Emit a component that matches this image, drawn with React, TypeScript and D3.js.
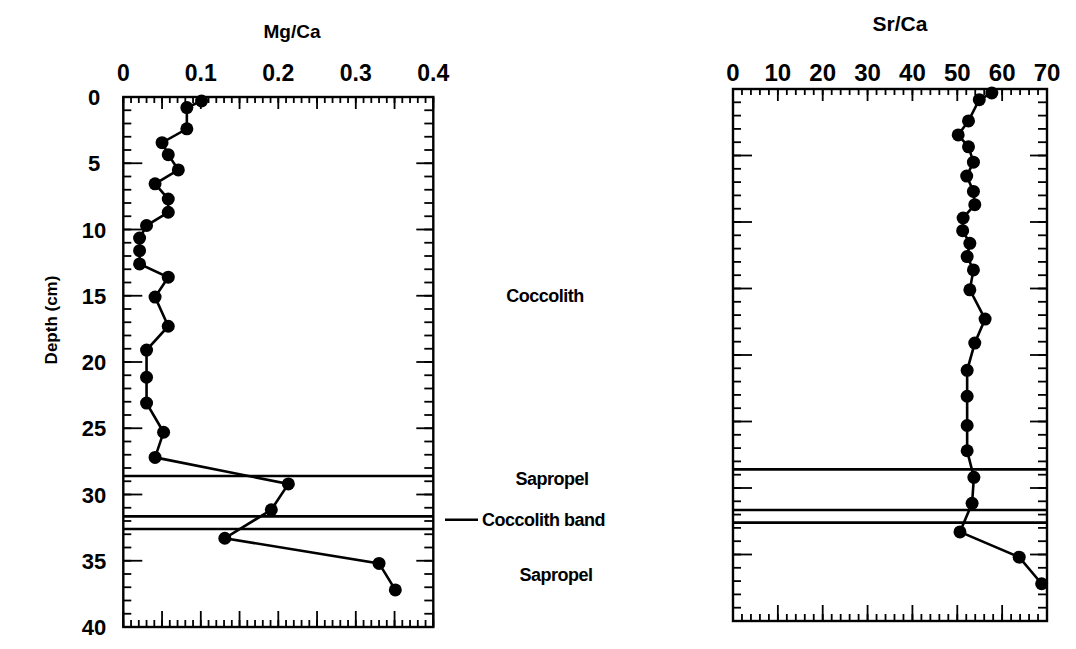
import React from 'react';
import * as d3 from 'd3';

// sample depths (cm), shared by both profiles
const depths = [0.3, 0.8, 2.4, 3.45, 4.35, 5.5, 6.55, 7.7, 8.7, 9.7, 10.65, 11.6, 12.6, 13.6, 15.1, 17.3, 19.1, 21.15, 23.1, 25.3, 27.2, 29.2, 31.15, 33.3, 35.2, 37.2];
const mgCa = [0.101, 0.082, 0.082, 0.05, 0.058, 0.071, 0.041, 0.058, 0.058, 0.03, 0.021, 0.021, 0.021, 0.058, 0.041, 0.058, 0.03, 0.03, 0.03, 0.052, 0.041, 0.213, 0.191, 0.131, 0.33, 0.351];
const srCa = [57.7, 54.9, 52.5, 50.2, 52.5, 53.6, 52.1, 53.6, 53.9, 51.3, 51.2, 52.8, 52.2, 53.6, 52.8, 56.2, 53.9, 52.2, 52.2, 52.2, 52.2, 53.7, 53.3, 50.6, 63.8, 68.8];

const mgTickLabels = [0, 0.1, 0.2, 0.3, 0.4];
const srTickLabels = [0, 10, 20, 30, 40, 50, 60, 70];
const depthTickLabels = [0, 5, 10, 15, 20, 25, 30, 35, 40];

// unit boundaries (depth, cm)
const boundaries = [28.6, 31.65, 32.6];
const zoneNames = ['Coccolith', 'Sapropel', 'Coccolith band', 'Sapropel'];
const zoneDepths = [15, 28.8, 31.9, 36.1];

const FONT = 'Arial, "Liberation Sans", sans-serif';

type PanelProps = {
  values: number[];
  domain: [number, number];
  left: number; right: number; top: number; bottom: number;
  minorN: number; majorN: number;
  labels: number[];
  title: string; titleX: number; titleY: number; titleSize: number;
  labelSize: number; labelY: number;
  depthAxis?: boolean;
};

function Panel(p: PanelProps) {
  const x = d3.scaleLinear().domain(p.domain).range([p.left, p.right]);
  const y = d3.scaleLinear().domain([0, 40]).range([p.top, p.bottom]);
  const line = d3.line<number>().x(v => x(v)).y((_, i) => y(depths[i]));
  const majX = x.ticks(p.majorN);
  const minX = x.ticks(p.minorN);
  const majY = y.ticks(8);
  const minY = y.ticks(40);
  const sw = 1.8;
  const zoneX = [545, 552, 482, 556];
  return (
    <g>
      {/* boundary lines */}
      {boundaries.map((b, i) => (
        <line key={'b' + i} x1={p.left} x2={p.right} y1={y(b)} y2={y(b)} stroke="#000" strokeWidth={2.6} />
      ))}
      {/* x ticks top and bottom, inward */}
      {minX.map((t, i) => (
        <g key={'mx' + i}>
          <line x1={x(t)} x2={x(t)} y1={p.top} y2={p.top + 6} stroke="#000" strokeWidth={sw} />
          <line x1={x(t)} x2={x(t)} y1={p.bottom} y2={p.bottom - 7} stroke="#000" strokeWidth={sw} />
        </g>
      ))}
      {majX.map((t, i) => (
        <g key={'Mx' + i}>
          <line x1={x(t)} x2={x(t)} y1={p.top} y2={p.top + 12} stroke="#000" strokeWidth={sw} />
          <line x1={x(t)} x2={x(t)} y1={p.bottom} y2={p.bottom - 16} stroke="#000" strokeWidth={sw} />
        </g>
      ))}
      {/* y ticks left and right, inward */}
      {minY.map((t, i) => (
        <g key={'my' + i}>
          <line x1={p.left} x2={p.left + 8} y1={y(t)} y2={y(t)} stroke="#000" strokeWidth={sw} />
          <line x1={p.right} x2={p.right - 9} y1={y(t)} y2={y(t)} stroke="#000" strokeWidth={sw} />
        </g>
      ))}
      {majY.map((t, i) => (
        <g key={'My' + i}>
          <line x1={p.left} x2={p.left + 19} y1={y(t)} y2={y(t)} stroke="#000" strokeWidth={sw} />
          <line x1={p.right} x2={p.right - 17} y1={y(t)} y2={y(t)} stroke="#000" strokeWidth={sw} />
        </g>
      ))}
      <rect x={p.left} y={p.top} width={p.right - p.left} height={p.bottom - p.top} fill="none" stroke="#000" strokeWidth={2.4} />
      {/* profile */}
      <path d={line(p.values) || ''} fill="none" stroke="#000" strokeWidth={2.6} />
      {p.values.map((v, i) => (
        <circle key={'p' + i} cx={x(v)} cy={y(depths[i])} r={6.5} fill="#000" />
      ))}
      {/* labels */}
      {p.labels.map((t, i) => (
        <text key={'lx' + i} x={x(t)} y={p.labelY} textAnchor="middle" fontSize={p.labelSize} fontWeight="bold" fontFamily={FONT}>{t}</text>
      ))}
      <text x={p.titleX} y={p.titleY} textAnchor="middle" fontSize={p.titleSize} fontWeight="bold" fontFamily={FONT}>{p.title}</text>
      {p.depthAxis && depthTickLabels.map((t, i) => (
        <text key={'ly' + i} x={94} y={y(t) + 8} textAnchor="middle" fontSize={22} fontWeight="bold" fontFamily={FONT}>{t}</text>
      ))}
      {p.depthAxis && (
        <g>
          {zoneNames.map((n, i) => (
            <text key={'z' + i} x={zoneX[i]} y={y(zoneDepths[i]) + 6}
              textAnchor={i === 2 ? 'start' : 'middle'} fontSize={18} fontWeight="bold" fontFamily={FONT} letterSpacing={-0.5}>{n}</text>
          ))}
          <line x1={445} x2={478} y1={y(zoneDepths[2])} y2={y(zoneDepths[2])} stroke="#000" strokeWidth={2.4} />
        </g>
      )}
    </g>
  );
}

export default function App() {
  return (
    <svg width={1076} height={649} style={{ position: 'absolute', left: 0, top: 0, background: '#fff' }}>
      <rect width={1076} height={649} fill="#fff" />
      <Panel values={mgCa} domain={[0, 0.4]} left={123.3} right={433.3} top={97} bottom={627}
        minorN={40} majorN={8} labels={mgTickLabels}
        title="Mg/Ca" titleX={292} titleY={38} titleSize={19}
        labelSize={23} labelY={81} depthAxis />
      <Panel values={srCa} domain={[0, 70]} left={733} right={1047} top={89} bottom={621}
        minorN={35} majorN={7} labels={srTickLabels}
        title="Sr/Ca" titleX={900} titleY={31} titleSize={21}
        labelSize={24} labelY={81} />
      <text transform="translate(57,320) rotate(-90)" textAnchor="middle" fontSize={17} fontFamily={FONT} fontWeight="bold">Depth (cm)</text>
    </svg>
  );
}
